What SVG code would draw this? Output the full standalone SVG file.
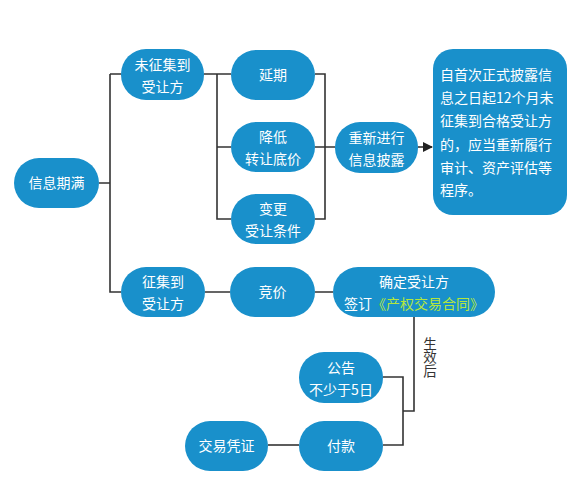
<svg xmlns="http://www.w3.org/2000/svg" width="574" height="500" viewBox="0 0 574 500">
<defs>
<style>
.n{fill:#1990cb;}
.t{font-family:"Noto Sans CJK SC","Noto Sans",sans-serif;font-size:14px;fill:#ffffff;text-anchor:middle;}
.tl{font-family:"Noto Sans CJK SC","Noto Sans",sans-serif;font-size:14px;fill:#ffffff;}
.c{fill:none;stroke:#333333;stroke-width:1.6;}
.lab{font-family:"Noto Sans CJK SC","Noto Sans",sans-serif;font-size:13.5px;fill:#333333;writing-mode:tb;}
</style>
<marker id="arr" markerWidth="10" markerHeight="10" refX="9" refY="5" orient="auto" markerUnits="userSpaceOnUse">
<path d="M0,0 L10,5 L0,10 Z" fill="#222222"/>
</marker>
</defs>
<rect width="574" height="500" fill="#ffffff"/>
<g id="connectors">
<path class="c" d="M99,183 H110 M110,74 V292 H121 M110,74 H121"/>
<path class="c" d="M204,74 H231 M217,74 V219 H231 M217,147 H231"/>
<path class="c" d="M315,74 H325 V219 H315 M315,147 H335"/>
<path class="c" d="M418,147 H432" marker-end="url(#arr)"/>
<path class="c" d="M205,292 H230 M315,292 H333"/>
<path class="c" d="M414,317 V411 H403 M383,377 H403 V445 H383"/>
<path class="c" d="M268,445 H299"/>
<text class="lab" x="430" y="337" writing-mode="tb">生效后</text>
</g>
<g id="n-xinxiqiman">
<rect class="n" x="14" y="158" width="85" height="50" rx="25"/>
<text class="t" x="56.5" y="188">信息期满</text>
</g>
<g id="n-weizhengji">
<rect class="n" x="121" y="49" width="83" height="51" rx="25"/>
<text class="t" x="162.5" y="70">未征集到</text>
<text class="t" x="162.5" y="92">受让方</text>
</g>
<g id="n-yanqi">
<rect class="n" x="231" y="50" width="84" height="50" rx="25"/>
<text class="t" x="273" y="80">延期</text>
</g>
<g id="n-jiangdi">
<rect class="n" x="231" y="122" width="84" height="50" rx="25"/>
<text class="t" x="273" y="142">降低</text>
<text class="t" x="273" y="164">转让底价</text>
</g>
<g id="n-biangeng">
<rect class="n" x="231" y="194" width="84" height="50" rx="25"/>
<text class="t" x="273" y="214">变更</text>
<text class="t" x="273" y="236">受让条件</text>
</g>
<g id="n-chongxin">
<rect class="n" x="335" y="122" width="83" height="51" rx="25"/>
<text class="t" x="376.5" y="143">重新进行</text>
<text class="t" x="376.5" y="165">信息披露</text>
</g>
<g id="n-note">
<rect class="n" x="433" y="49" width="134" height="166" rx="20"/>
<text class="tl" x="440" y="80">自首次正式披露信</text>
<text class="tl" x="440" y="103">息之日起12个月未</text>
<text class="tl" x="440" y="126">征集到合格受让方</text>
<text class="tl" x="440" y="150">的，应当重新履行</text>
<text class="tl" x="440" y="173">审计、资产评估等</text>
<text class="tl" x="440" y="195">程序。</text>
</g>
<g id="n-zhengji">
<rect class="n" x="121" y="267" width="84" height="50" rx="25"/>
<text class="t" x="163" y="287">征集到</text>
<text class="t" x="163" y="309">受让方</text>
</g>
<g id="n-jingjia">
<rect class="n" x="230" y="267" width="85" height="50" rx="25"/>
<text class="t" x="272.5" y="297">竞价</text>
</g>
<g id="n-queding">
<rect class="n" x="333" y="267" width="162" height="50" rx="25"/>
<text class="t" x="414" y="287">确定受让方</text>
<text class="t" x="414" y="309">签订<tspan fill="#b4e63c">《产权交易合同》</tspan></text>
</g>
<g id="n-gonggao">
<rect class="n" x="299" y="352" width="84" height="51" rx="25"/>
<text class="t" x="341" y="373">公告</text>
<text class="t" x="341" y="395">不少于5日</text>
</g>
<g id="n-fukuan">
<rect class="n" x="299" y="421" width="84" height="50" rx="25"/>
<text class="t" x="341" y="451">付款</text>
</g>
<g id="n-pingzheng">
<rect class="n" x="185" y="421" width="83" height="50" rx="25"/>
<text class="t" x="226.5" y="451">交易凭证</text>
</g>
</svg>
